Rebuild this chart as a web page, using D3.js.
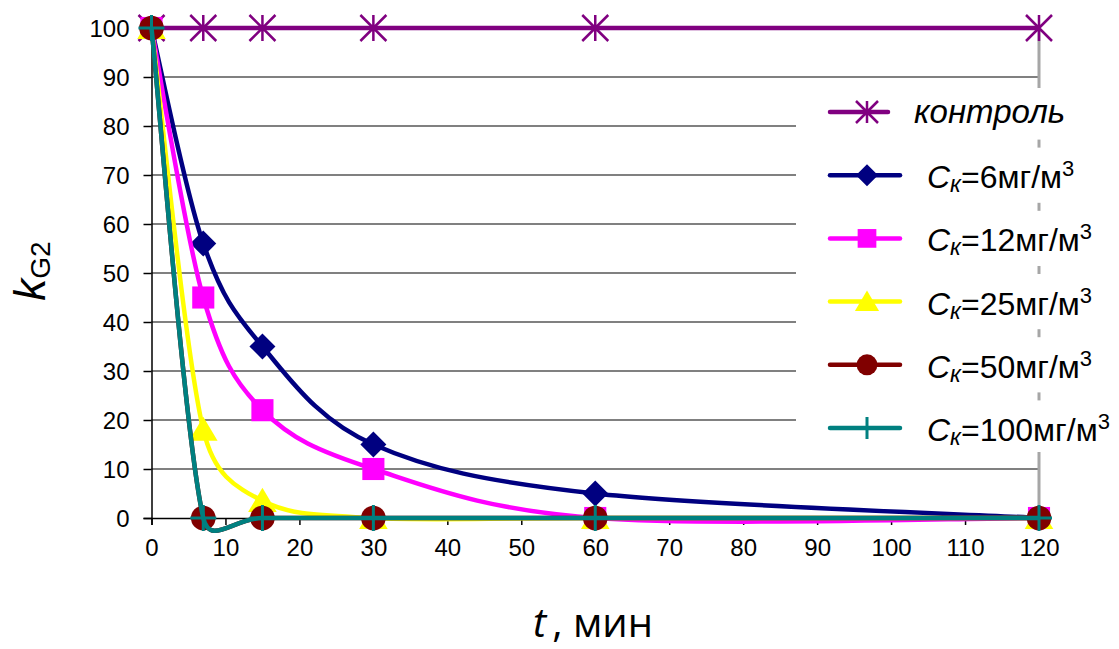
<!DOCTYPE html>
<html>
<head>
<meta charset="utf-8">
<script src="https://cdn.jsdelivr.net/npm/d3@7"></script>
<style>
body { margin: 0; background: #fff; }
text { font-family: "Liberation Sans", Arial, sans-serif; }
</style>
</head>
<body>
<div id="chart"></div>
<script>
// time points, min
var times = [0, 7, 15, 30, 60, 120];
// k_G2 for each series
var control = [100, 100, 100, 100, 100, 100];
var c6 = [100, 56, 35, 15, 5, 0];
var c12 = [100, 45, 22, 10, 0, 0];
var c25 = [100, 18, 3.5, 0, 0, 0];
var c50 = [100, 0, 0, 0, 0, 0];
var c100 = [100, 0, 0, 0, 0, 0];
var concLabels = ['контроль', '6', '12', '25', '50', '100'];
var xTicks = [0, 10, 20, 30, 40, 50, 60, 70, 80, 90, 100, 110, 120];
var yTicks = [0, 10, 20, 30, 40, 50, 60, 70, 80, 90, 100];

var width = 1119, height = 649;
var margin = {top: 28, right: 80, bottom: 131, left: 151.5};

var svg = d3.select('#chart').append('svg')
    .attr('width', width)
    .attr('height', height);

var x = d3.scaleLinear().domain([0, 120]).range([margin.left, width - margin.right]);
var y = d3.scaleLinear().domain([0, 100]).range([height - margin.bottom, margin.top]);

// spreadsheet-style smoothed line (bezier, control arms limited to half a segment)
function SmoothCurve(context) { this._context = context; }
SmoothCurve.prototype = {
    areaStart: function() {},
    areaEnd: function() {},
    lineStart: function() { this._pts = []; },
    point: function(px, py) { this._pts.push([+px, +py]); },
    lineEnd: function() {
        var p = this._pts, c = this._context, n = p.length;
        if (!n) return;
        function dist(a, b) { return Math.hypot(b[0] - a[0], b[1] - a[1]); }
        c.moveTo(p[0][0], p[0][1]);
        for (var i = 0; i < n - 1; i++) {
            var p0 = p[i > 0 ? i - 1 : i], p1 = p[i], p2 = p[i + 1],
                p3 = p[i + 2 < n ? i + 2 : i + 1];
            var d12 = dist(p1, p2), d02 = dist(p0, p2), d13 = dist(p1, p3);
            var f1 = 1 / 6, f2 = 1 / 6;
            if (d02 > 0 && d02 / 6 >= d12 / 2) f1 = d12 / (2 * d02);
            if (d13 > 0 && d13 / 6 >= d12 / 2) f2 = d12 / (2 * d13);
            c.bezierCurveTo(
                p1[0] + f1 * (p2[0] - p0[0]), p1[1] + f1 * (p2[1] - p0[1]),
                p2[0] - f2 * (p3[0] - p1[0]), p2[1] - f2 * (p3[1] - p1[1]),
                p2[0], p2[1]);
        }
    }
};
function smoothCurve(context) { return new SmoothCurve(context); }

// gridlines
svg.append('g').selectAll('line')
    .data(yTicks.filter(function(d) { return d > 0; }))
    .enter().append('line')
    .attr('x1', x(0)).attr('x2', x(120))
    .attr('y1', function(d) { return y(d); })
    .attr('y2', function(d) { return y(d); })
    .style('stroke', '#808080')
    .style('stroke-width', 2);

// vertical line at the last time point
svg.append('line')
    .attr('x1', x(120)).attr('x2', x(120))
    .attr('y1', y(100)).attr('y2', y(0))
    .style('stroke', '#a6a6a6')
    .style('stroke-width', 3);

// axes
var xAxis = svg.append('g')
    .attr('transform', 'translate(0,' + y(0) + ')')
    .call(d3.axisBottom(x).tickValues(xTicks).tickSize(7).tickPadding(14));
var yAxis = svg.append('g')
    .attr('transform', 'translate(' + x(0) + ',0)')
    .call(d3.axisLeft(y).tickValues(yTicks).tickSize(8).tickPadding(14));
[xAxis, yAxis].forEach(function(a) {
    a.select('.domain').style('stroke', '#000').style('stroke-width', 1.5);
    a.selectAll('.tick line').style('stroke', '#000').style('stroke-width', 1.5);
    a.selectAll('.tick text')
        .style('font-family', '"Liberation Sans", Arial, sans-serif')
        .style('font-size', '24px')
        .style('fill', '#000');
});
yAxis.selectAll('.tick text').attr('dy', '0.36em');

// markers
function marker(g, type, color, s) {
    if (type === 'star') {
        g.append('path')
            .attr('d', 'M0,' + (-s) + 'V' + s +
                'M' + (-s) + ',' + (-s) + 'L' + s + ',' + s +
                'M' + s + ',' + (-s) + 'L' + (-s) + ',' + s)
            .style('stroke', color).style('stroke-width', 2.5).style('fill', 'none');
    } else if (type === 'diamond') {
        g.append('path')
            .attr('d', 'M0,' + (-s) + 'L' + s + ',0L0,' + s + 'L' + (-s) + ',0Z')
            .style('fill', color);
    } else if (type === 'square') {
        g.append('rect')
            .attr('x', -s * 0.85).attr('y', -s * 0.85)
            .attr('width', s * 1.7).attr('height', s * 1.7)
            .style('fill', color);
    } else if (type === 'triangle') {
        g.append('path')
            .attr('d', 'M0,' + (-s) + 'L' + (s * 1.1) + ',' + (s * 0.85) + 'L' + (-s * 1.1) + ',' + (s * 0.85) + 'Z')
            .style('fill', color);
    } else if (type === 'circle') {
        g.append('circle').attr('r', s * 0.95).style('fill', color);
    } else if (type === 'plus') {
        g.append('path')
            .attr('d', 'M0,' + (-s) + 'V' + s + 'M' + (-s) + ',0H' + s)
            .style('stroke', color).style('stroke-width', 3).style('fill', 'none');
    }
}

var series = [
    {values: control, color: '#800080', type: 'star'},
    {values: c6, color: '#000080', type: 'diamond'},
    {values: c12, color: '#ff00ff', type: 'square'},
    {values: c25, color: '#ffff00', type: 'triangle'},
    {values: c50, color: '#800000', type: 'circle'},
    {values: c100, color: '#008080', type: 'plus'}
];

var line = d3.line()
    .x(function(d) { return x(d[0]); })
    .y(function(d) { return y(d[1]); })
    .curve(smoothCurve);

series.forEach(function(s) {
    var pts = times.map(function(t, i) { return [t, s.values[i]]; });
    var g = svg.append('g');
    g.append('path')
        .datum(pts)
        .attr('d', line)
        .style('fill', 'none')
        .style('stroke', s.color)
        .style('stroke-width', 4.5)
        .style('stroke-linejoin', 'round');
    pts.forEach(function(p) {
        var m = g.append('g').attr('transform', 'translate(' + x(p[0]) + ',' + y(p[1]) + ')');
        marker(m, s.type, s.color, 13);
    });
});

// legend
var legTop = 112, legStep = 63.2;
var legend = svg.append('g');
legend.append('rect')
    .attr('x', 796).attr('y', 88)
    .attr('width', width - 796).attr('height', 364)
    .style('fill', '#fff');
// vertical line shows through between legend entries
for (var k = 0; k < series.length - 1; k++) {
    legend.append('line')
        .attr('x1', x(120)).attr('x2', x(120))
        .attr('y1', legTop + legStep * (k + 0.5) - 4)
        .attr('y2', legTop + legStep * (k + 0.5) + 4)
        .style('stroke', '#a6a6a6').style('stroke-width', 3);
}
series.forEach(function(s, i) {
    var ly = legTop + i * legStep;
    var g = legend.append('g').attr('transform', 'translate(0,' + ly + ')');
    g.append('line')
        .attr('x1', 830).attr('x2', i === 0 ? 888 : 900)
        .style('stroke', s.color).style('stroke-width', 4.5)
        .style('stroke-linecap', 'round');
    var m = g.append('g').attr('transform', 'translate(867,0)');
    marker(m, s.type, s.color, 11);
    var t = g.append('text')
        .attr('x', i === 0 ? 914 : 927)
        .attr('y', i === 0 ? 11 : 13)
        .style('font-size', i === 0 ? '33px' : '32px')
        .style('fill', '#000');
    if (i === 0) {
        t.style('font-style', 'italic').text(concLabels[0]);
    } else {
        t.append('tspan').style('font-style', 'italic').text('C');
        t.append('tspan').style('font-style', 'italic').style('font-size', '23px')
            .attr('dy', 4).text('к');
        t.append('tspan').attr('dy', -4).text('=' + concLabels[i] + 'мг/м');
        t.append('tspan').style('font-size', '22px').attr('dy', -12).text('3');
    }
});

// axis titles
var xt = svg.append('text')
    .attr('x', 533).attr('y', 637)
    .style('font-family', '"Open Sans", "Liberation Sans", sans-serif')
    .style('font-size', '40px')
    .style('fill', '#000');
xt.append('tspan').style('font-style', 'italic').text('t');
xt.append('tspan').attr('dx', 6).text(', мин');

var yt = svg.append('text')
    .attr('transform', 'translate(45,271) rotate(-90)')
    .attr('text-anchor', 'middle')
    .style('font-size', '44px')
    .style('fill', '#000');
yt.append('tspan').style('font-style', 'italic').text('k');
yt.append('tspan').style('font-size', '28px').attr('dy', 5).text('G2');
</script>
</body>
</html>
